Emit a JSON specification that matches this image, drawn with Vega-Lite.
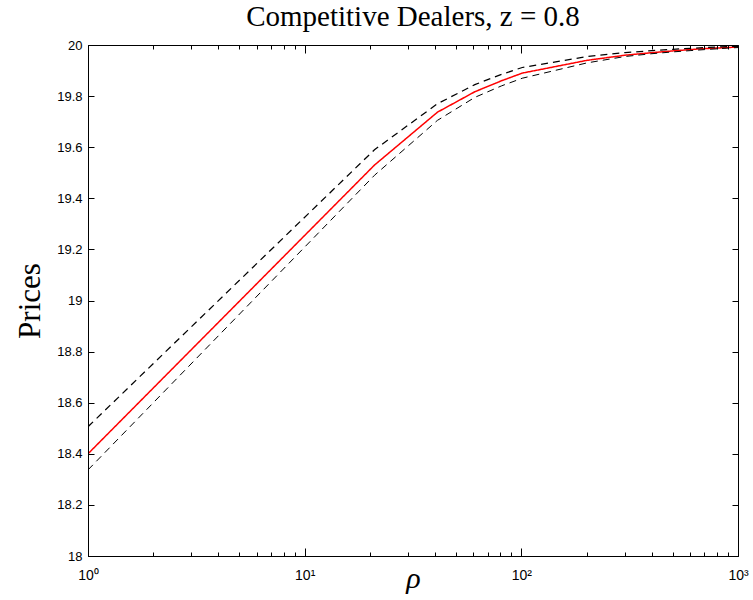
{
  "$schema": "https://vega.github.io/schema/vega-lite/v6.json",
  "autosize": "none",
  "width": 650,
  "height": 511,
  "padding": {"left": 88, "top": 45, "right": 15, "bottom": 44},
  "background": "white",
  "title": {"text": "Competitive Dealers, z = 0.8", "font": "Liberation Serif", "fontSize": 29, "fontWeight": "normal", "color": "black", "offset": 7, "anchor": "middle"},
  "config": {"view": {"stroke": "black", "strokeWidth": 1, "fill": null}, "axis": {"zindex": 1, "domainColor": "black", "labelColor": "black", "labelFont": "Liberation Sans", "labelFontSize": 13, "titleColor": "black", "titleFontWeight": "normal", "ticks": false, "grid": true, "gridColor": "black", "gridWidth": 1, "gridOpacity": 1}},
  "data": {"values": [
    {"rho": 1, "price": 18.40, "series": "mean"},
    {"rho": 21, "price": 19.53, "series": "mean"},
    {"rho": 41, "price": 19.737, "series": "mean"},
    {"rho": 61, "price": 19.817, "series": "mean"},
    {"rho": 81, "price": 19.86, "series": "mean"},
    {"rho": 101, "price": 19.89, "series": "mean"},
    {"rho": 201, "price": 19.94, "series": "mean"},
    {"rho": 301, "price": 19.96, "series": "mean"},
    {"rho": 401, "price": 19.97, "series": "mean"},
    {"rho": 501, "price": 19.977, "series": "mean"},
    {"rho": 601, "price": 19.982, "series": "mean"},
    {"rho": 701, "price": 19.986, "series": "mean"},
    {"rho": 801, "price": 19.988, "series": "mean"},
    {"rho": 901, "price": 19.99, "series": "mean"},
    {"rho": 1000, "price": 19.992, "series": "mean"},
    {"rho": 1, "price": 18.506, "series": "upper"},
    {"rho": 21, "price": 19.59, "series": "upper"},
    {"rho": 41, "price": 19.77, "series": "upper"},
    {"rho": 61, "price": 19.845, "series": "upper"},
    {"rho": 81, "price": 19.885, "series": "upper"},
    {"rho": 101, "price": 19.912, "series": "upper"},
    {"rho": 201, "price": 19.955, "series": "upper"},
    {"rho": 301, "price": 19.97, "series": "upper"},
    {"rho": 401, "price": 19.978, "series": "upper"},
    {"rho": 501, "price": 19.983, "series": "upper"},
    {"rho": 601, "price": 19.987, "series": "upper"},
    {"rho": 701, "price": 19.99, "series": "upper"},
    {"rho": 801, "price": 19.992, "series": "upper"},
    {"rho": 901, "price": 19.994, "series": "upper"},
    {"rho": 1000, "price": 19.995, "series": "upper"},
    {"rho": 1, "price": 18.337, "series": "lower"},
    {"rho": 21, "price": 19.49, "series": "lower"},
    {"rho": 41, "price": 19.705, "series": "lower"},
    {"rho": 61, "price": 19.795, "series": "lower"},
    {"rho": 81, "price": 19.84, "series": "lower"},
    {"rho": 101, "price": 19.87, "series": "lower"},
    {"rho": 201, "price": 19.93, "series": "lower"},
    {"rho": 301, "price": 19.955, "series": "lower"},
    {"rho": 401, "price": 19.966, "series": "lower"},
    {"rho": 501, "price": 19.973, "series": "lower"},
    {"rho": 601, "price": 19.978, "series": "lower"},
    {"rho": 701, "price": 19.982, "series": "lower"},
    {"rho": 801, "price": 19.985, "series": "lower"},
    {"rho": 901, "price": 19.988, "series": "lower"},
    {"rho": 1000, "price": 19.99, "series": "lower"}
  ]},
  "mark": {"type": "line", "clip": true},
  "encoding": {
    "x": {"field": "rho", "type": "quantitative", "scale": {"type": "log", "domain": [1, 1000], "nice": false},
      "axis": {"orient": "bottom", "title": "ρ", "titleFont": "Liberation Serif", "titleFontStyle": "italic", "titleFontSize": 30, "titleY": 31, "titleBaseline": "alphabetic",
        "grid": true, "ticks": false, "gridColor": "black", "gridWidth": 1, "gridOpacity": 1, "zindex": 1,
        "values": [1, 2, 3, 4, 5, 6, 7, 8, 9, 10, 20, 30, 40, 50, 60, 70, 80, 90, 100, 200, 300, 400, 500, 600, 700, 800, 900, 1000],
        "labelExpr": "datum.value == 1 ? '10⁰' : datum.value == 10 ? '10¹' : datum.value == 100 ? '10²' : datum.value == 1000 ? '10³' : ''",
        "gridDash": {"condition": {"test": "indexof([1, 10, 100, 1000], datum.value) >= 0", "value": [8, 495, 8, 1000]}, "value": [4, 503, 4, 1000]},
        "labelFontSize": 14, "labelPadding": 12, "labelFlush": false}},
    "y": {"field": "price", "type": "quantitative", "scale": {"domain": [18, 20], "nice": false, "zero": false},
      "axis": {"orient": "left", "title": "Prices", "titleFont": "Liberation Serif", "titleFontSize": 31, "titlePadding": 10,
        "grid": true, "ticks": false, "gridColor": "black", "gridWidth": 1, "gridOpacity": 1, "zindex": 1,
        "values": [18, 18.2, 18.4, 18.6, 18.8, 19, 19.2, 19.4, 19.6, 19.8, 20], "format": ".1~f", "labelPadding": 6,
        "gridDash": [6, 638, 6, 1000]}},
    "color": {"field": "series", "type": "nominal", "scale": {"domain": ["mean", "upper", "lower"], "range": ["#ff0000", "#000000", "#000000"]}, "legend": null},
    "strokeDash": {"field": "series", "type": "nominal", "scale": {"domain": ["mean", "upper", "lower"], "range": [[1, 0], [7, 5], [7, 5]]}, "legend": null},
    "strokeWidth": {"field": "series", "type": "nominal", "scale": {"domain": ["mean", "upper", "lower"], "range": [1.5, 1, 1]}, "legend": null}
  }
}
